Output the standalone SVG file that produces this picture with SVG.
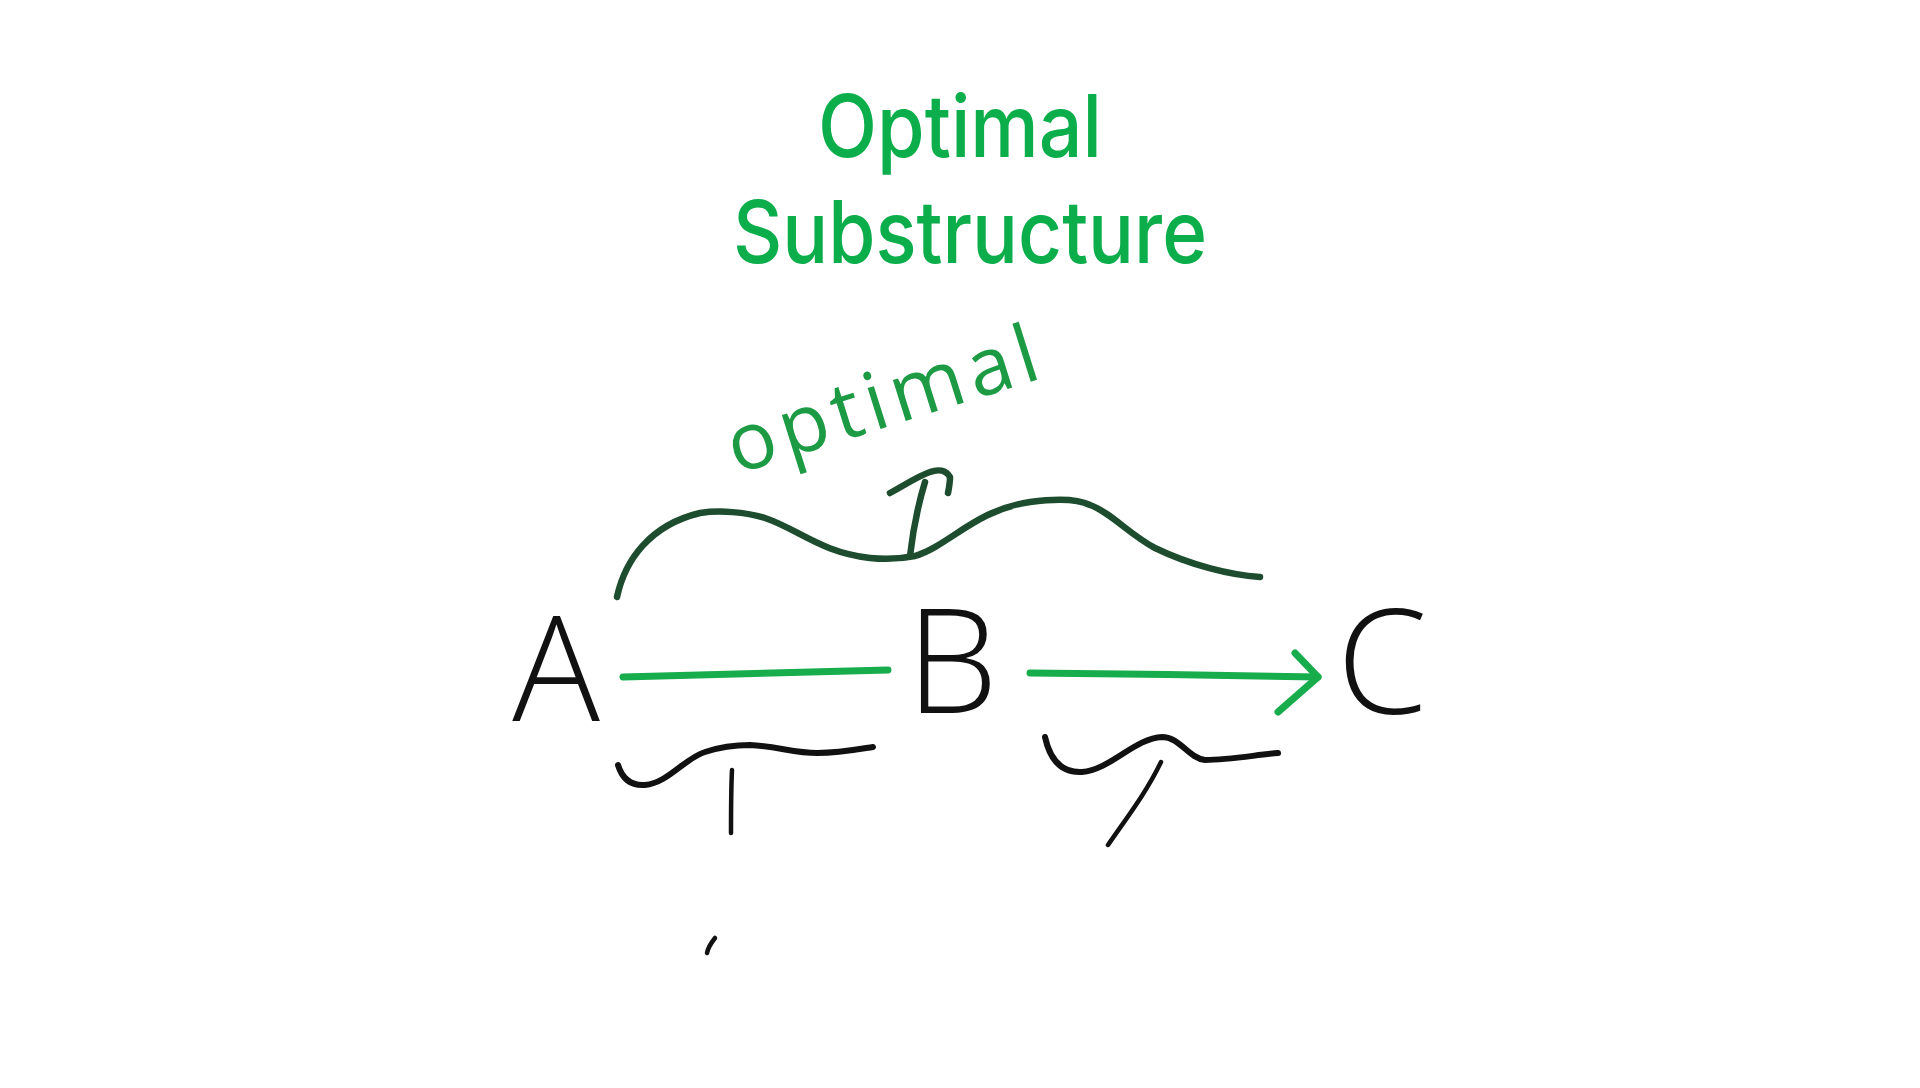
<svg xmlns="http://www.w3.org/2000/svg" width="1920" height="1088" viewBox="0 0 1920 1088">
  <style>
    .title { font-family: Inter, "Liberation Sans", Arial, sans-serif; font-weight: 500; font-size: 87px; fill: #0cae4b; text-anchor: middle; }
    .node { font-family: "Open Sans", "Liberation Sans", sans-serif; font-weight: 300; font-size: 146px; fill: #111111; text-anchor: middle; }
    .hand { font-family: "Open Sans", "Liberation Sans", sans-serif; font-weight: 400; font-size: 80px; fill: #1c9b44; text-anchor: middle; }
    .green { fill: none; stroke: #17ad4c; stroke-width: 7; stroke-linecap: round; stroke-linejoin: round; }
    .dark { fill: none; stroke: #1d4d2e; stroke-width: 6.5; stroke-linecap: round; stroke-linejoin: round; }
    .ink { fill: none; stroke: #111111; stroke-width: 6; stroke-linecap: round; stroke-linejoin: round; }
    .thin { fill: none; stroke: #111111; stroke-width: 4.5; stroke-linecap: round; }
  </style>
  <rect width="1920" height="1088" fill="#ffffff"/>

  <g id="title">
    <text class="title" x="960" y="157" textLength="284" lengthAdjust="spacingAndGlyphs">Optimal</text>
    <text class="title" x="970" y="263" textLength="474" lengthAdjust="spacingAndGlyphs">Substructure</text>
  </g>

  <g id="label-optimal">
    <text class="hand" x="890" y="426" textLength="322" lengthAdjust="spacing" transform="rotate(-17.5 890 426)">optimal</text>
  </g>

  <g id="node-A">
    <text class="node" x="556" y="721">A</text>
  </g>
  <g id="node-B">
    <text class="node" x="952" y="713">B</text>
  </g>
  <g id="node-C">
    <text class="node" x="1382" y="714">C</text>
  </g>

  <g id="connectors">
    <!-- A to B green line -->
    <path class="green" d="M623 677 C 710 675, 800 672, 888 670"/>
    <!-- B to C green arrow -->
    <path class="green" d="M1030 673 C 1120 674, 1230 675, 1318 677"/>
    <path class="green" d="M1295 653 L 1318 677 L 1278 712"/>

    <!-- top brace over A..C -->
    <path class="dark" d="M617 597 C 625 560, 650 525, 700 513 C 720 510, 745 512, 765 518 C 800 530, 820 552, 870 558 C 890 560, 905 558, 915 556 C 950 545, 975 510, 1030 502 C 1060 498, 1080 500, 1090 505 C 1110 512, 1130 535, 1155 548 C 1190 565, 1230 575, 1260 577"/>
    <!-- arrow up to "optimal" -->
    <path class="dark" d="M910 556 C 913 530, 918 505, 925 482"/>
    <path class="dark" d="M890 493 C 905 485, 918 476, 930 472 C 938 469, 946 470, 950 477 C 950 483, 949 488, 948 493"/>

    <!-- bottom brace under A..B -->
    <path class="ink" d="M618 765 C 622 778, 630 786, 645 785 C 668 783, 685 758, 705 752 C 720 747, 735 745, 750 745 C 775 746, 795 753, 817 753 C 840 753, 860 749, 873 747"/>
    <path class="thin" d="M732 770 C 731 790, 731 815, 731 833"/>
    <path class="thin" d="M715 938 C 711 943, 708 948, 707 953"/>

    <!-- bottom brace under B..C -->
    <path class="ink" d="M1045 737 C 1050 760, 1062 773, 1082 772 C 1110 770, 1135 738, 1162 737 C 1180 737, 1188 758, 1205 760 C 1230 760, 1255 755, 1278 753"/>
    <path class="thin" d="M1161 762 C 1145 795, 1125 820, 1108 845"/>
  </g>
</svg>
